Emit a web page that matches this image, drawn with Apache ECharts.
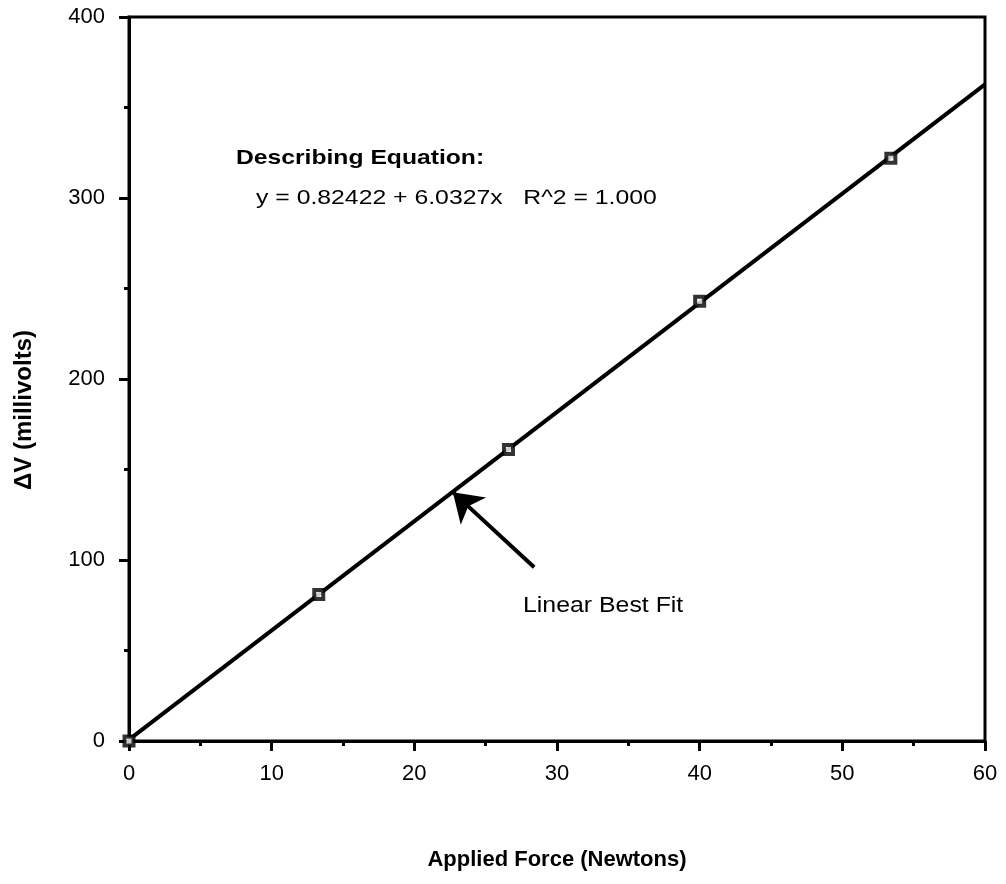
<!DOCTYPE html>
<html>
<head>
<meta charset="utf-8">
<script src="https://cdn.jsdelivr.net/npm/echarts@6/dist/echarts.min.js"></script>
<style>
  html, body { margin: 0; padding: 0; background: #fff; }
  #chart { width: 1006px; height: 884px; }
</style>
</head>
<body>
<div id="chart"></div>
<script>
const forceN = [0, 13.3, 26.6, 40.0, 53.4]
const voltMv = [0, 81, 161, 243, 322]

// best fit line end points
const fitX = [0, 60]
const fitY = [0.8, 362.8]

// arrow pointing at the fit line: tail -> tip
const arrowFrom = [28.4, 96]
const arrowTo = [22.7, 137.5]

const xTicks = [0, 10, 20, 30, 40, 50, 60]
const yTicks = [0, 100, 200, 300, 400]

const font = '"Liberation Sans", Arial, Helvetica, sans-serif'

const chart = echarts.init(document.getElementById('chart'))

const axisCommon = {
  axisLine: { show: true, lineStyle: { color: '#000', width: 3 } },
  axisTick: { show: true, inside: false, length: 10, lineStyle: { color: '#000', width: 3 } },
  minorTick: { show: true, splitNumber: 2, length: 5, lineStyle: { color: '#000', width: 3 } },
  splitLine: { show: false }
}

chart.setOption({
  animation: false,
  backgroundColor: '#fff',
  grid: {
    left: 129, right: 21, top: 17, bottom: 143,
    show: true, borderColor: '#000', borderWidth: 3
  },
  xAxis: {
    type: 'value',
    min: xTicks[0],
    max: xTicks[xTicks.length - 1],
    interval: 10,
    name: 'Applied Force (Newtons)',
    nameLocation: 'middle',
    nameGap: 108,
    nameTextStyle: { color: '#000', fontSize: 22, fontWeight: 'bold', fontFamily: font },
    axisLabel: { color: '#000', fontSize: 22, fontFamily: font, margin: 22 },
    ...axisCommon
  },
  yAxis: {
    type: 'value',
    min: yTicks[0],
    max: yTicks[yTicks.length - 1],
    interval: 100,
    name: 'ΔV (millivolts)',
    nameLocation: 'middle',
    nameGap: 93,
    nameTextStyle: { color: '#000', fontSize: 24, fontWeight: 'bold', fontFamily: font, padding: [0, 62, 0, 0] },
    axisLabel: { color: '#000', fontSize: 22, fontFamily: font, margin: 24 },
    ...axisCommon
  },
  series: [
    {
      type: 'line',
      data: fitX.map((x, i) => [x, fitY[i]]),
      symbol: 'none',
      silent: true,
      lineStyle: { color: '#000', width: 4 },
      markLine: {
        silent: true,
        symbol: ['none', 'arrow'],
        symbolSize: 28,
        label: { show: false },
        lineStyle: { color: '#000', width: 4, type: 'solid' },
        data: [[{ coord: arrowFrom }, { coord: arrowTo }]]
      },
      z: 2
    },
    {
      type: 'scatter',
      data: forceN.map((x, i) => [x, voltMv[i]]),
      symbol: 'rect',
      symbolSize: 9,
      itemStyle: { color: '#fff', borderColor: '#000', borderWidth: 4 },
      z: 3
    }
  ],
  graphic: [
    {
      type: 'text', x: 236, y: 148, scaleX: 1.175,
      style: { text: 'Describing Equation:', fill: '#000', font: 'bold 21px ' + font }
    },
    {
      type: 'text', x: 256, y: 188, scaleX: 1.18,
      style: { text: 'y = 0.82422 + 6.0327x   R^2 = 1.000', fill: '#000', font: '21px ' + font }
    },
    {
      type: 'text', x: 523, y: 595, scaleX: 1.13,
      style: { text: 'Linear Best Fit', fill: '#000', font: '22px ' + font }
    }
  ]
})

window.addEventListener('resize', () => chart.resize())
</script>
</body>
</html>
